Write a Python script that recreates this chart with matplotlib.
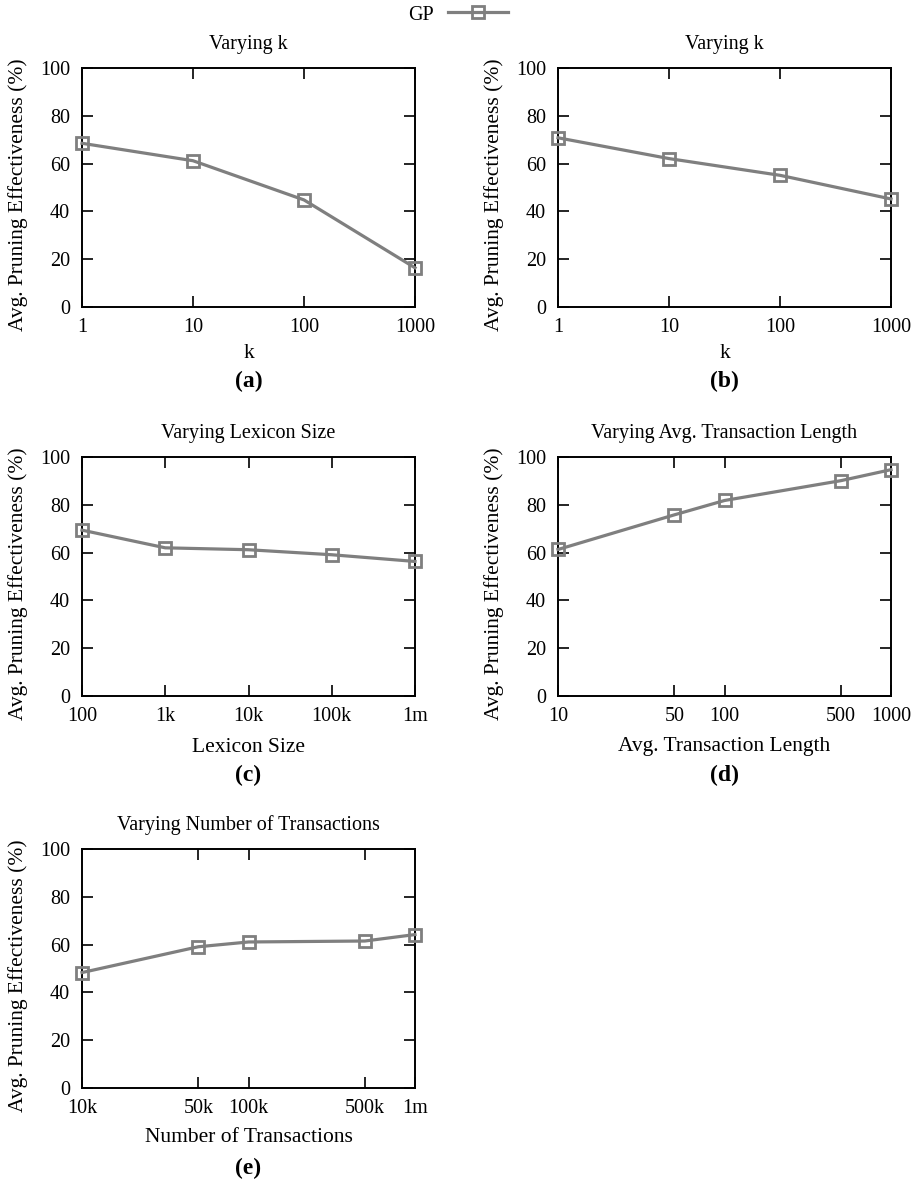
import numpy as np
import matplotlib
matplotlib.use('Agg')
from matplotlib import pyplot as plt

plt.rcParams['font.family'] = ['Liberation Serif', 'DejaVu Serif']

# data
k_vals = [1, 10, 100, 1000]
k_labels = ['1', '10', '100', '1000']
gp_a = [68.5, 61.2, 44.8, 16.4]
gp_b = [70.8, 62.1, 55.1, 45.2]

lex_vals = [100, 1000, 10000, 100000, 1000000]
lex_labels = ['100', '1k', '10k', '100k', '1m']
gp_c = [69.4, 62.0, 61.2, 59.1, 56.3]

len_vals = [10, 50, 100, 500, 1000]
len_labels = ['10', '50', '100', '500', '1000']
gp_d = [61.3, 75.8, 81.8, 90.1, 94.7]

ntx_vals = [10000, 50000, 100000, 500000, 1000000]
ntx_labels = ['10k', '50k', '100k', '500k', '1m']
gp_e = [48.3, 59.1, 61.1, 61.5, 64.2]

W, H = 917, 1182
fig = plt.figure(figsize=(W / 100, H / 100), dpi=100)
grey = '#7f7f7f'


def fx(px):
    return px / W


def fy(py):
    return 1 - py / H


def panel(left, top, xs, ys, xlabels, title, xlabel, tag, xl_off, tag_off):
    right = left + 333
    bottom = top + 239
    ax = fig.add_axes([fx(left), fy(bottom), (right - left) / W, (bottom - top) / H])
    ax.plot(xs, ys, color=grey, lw=2.3, marker='s', ms=8, mfc='none',
            mec=grey, mew=2, clip_on=False, zorder=5, label='GP')
    ax.set_xscale('log')
    ax.set_xlim(xs[0], xs[-1])
    ax.set_ylim(0, 100)
    ax.set_xticks(xs)
    ax.set_xticklabels(xlabels)
    ax.minorticks_off()
    ax.set_yticks([0, 20, 40, 60, 80, 100])
    ax.tick_params(direction='in', top=True, right=True, length=8, width=1.2,
                   labelsize=14.5, pad=8)
    ax.tick_params(axis='y', pad=8.5)
    for s in ax.spines.values():
        s.set_linewidth(1.4)
    cx = (left + right) / 2
    fig.text(fx(cx), fy(top - 24), title, ha='center', va='center', fontsize=14.5)
    fig.text(fx(left - 64), fy((top + bottom) / 2 + 7), 'Avg. Pruning Effectiveness (%)',
             rotation=90, ha='center', va='center', fontsize=15.5)
    fig.text(fx(cx), fy(bottom + xl_off), xlabel, ha='center', va='center', fontsize=15.5)
    fig.text(fx(cx), fy(bottom + tag_off), tag, ha='center', va='center', fontsize=17,
             fontweight='bold')
    return ax


ax = panel(82, 68, k_vals, gp_a, k_labels, 'Varying k', 'k', '(a)', 47, 74)
panel(558, 68, k_vals, gp_b, k_labels, 'Varying k', 'k', '(b)', 47, 74)
panel(82, 457, lex_vals, gp_c, lex_labels, 'Varying Lexicon Size', 'Lexicon Size',
      '(c)', 51, 79)
panel(558, 457, len_vals, gp_d, len_labels, 'Varying Avg. Transaction Length',
      'Avg. Transaction Length', '(d)', 51, 79)
panel(82, 849, ntx_vals, gp_e, ntx_labels, 'Varying Number of Transactions',
      'Number of Transactions', '(e)', 50, 80)

fig.legend(*ax.get_legend_handles_labels(), loc='center', bbox_to_anchor=(fx(458), fy(15)),
           frameon=False, fontsize=14.5, markerfirst=False, handlelength=3.0,
           handletextpad=0.7)

fig.savefig('out.png', dpi=100)
